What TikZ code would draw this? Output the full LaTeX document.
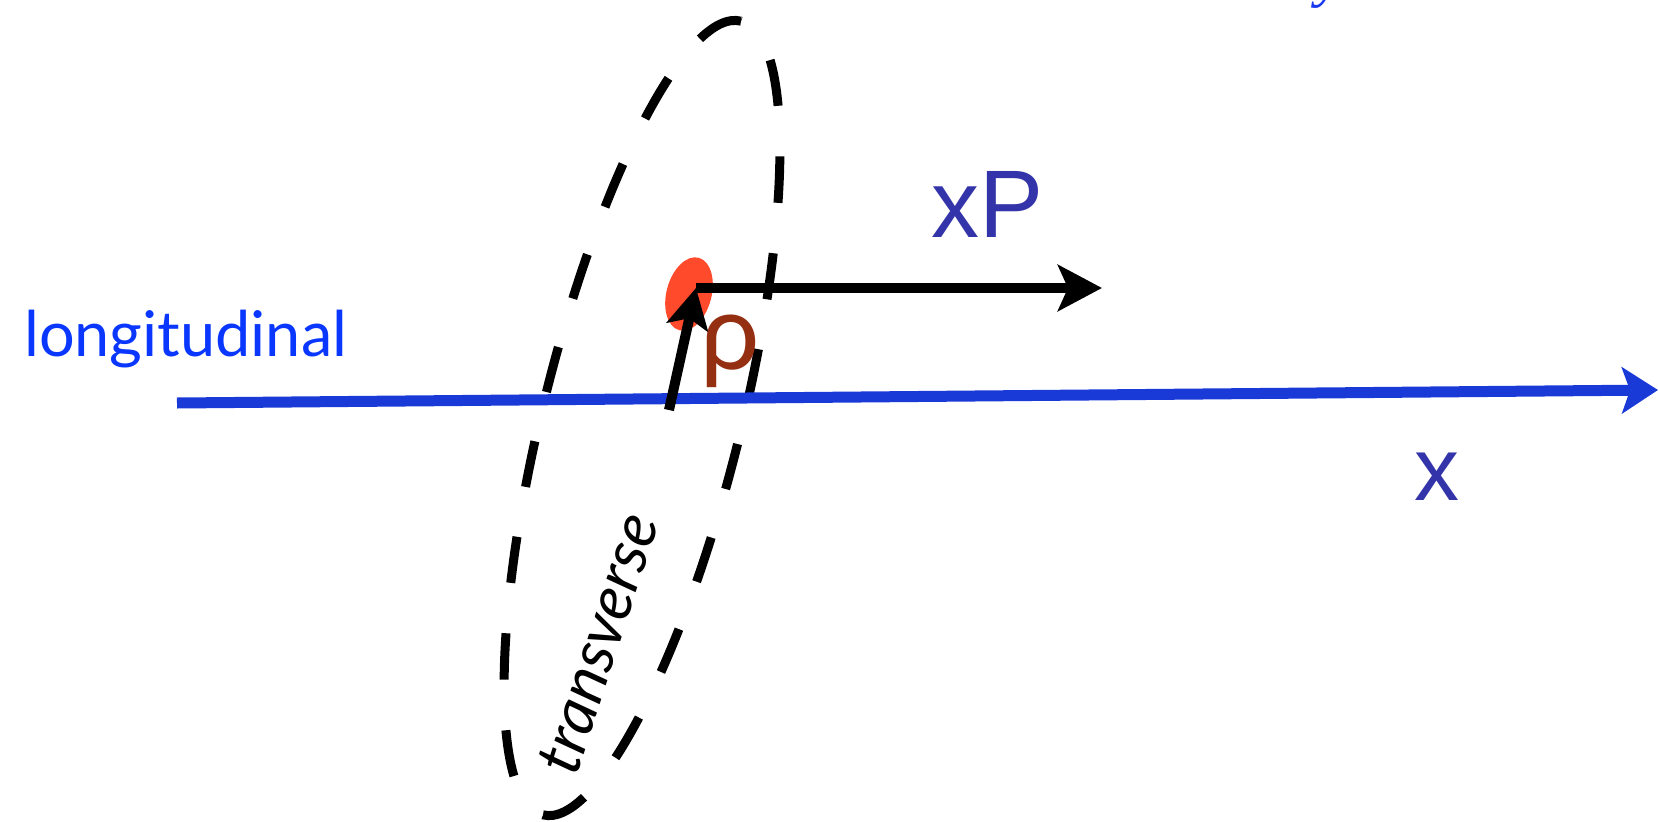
\documentclass[tikz,border=0pt]{standalone}
\usepackage{fontspec}
\setmainfont{Lato}
\newfontfamily\arialf{Liberation Sans}
\newfontfamily\timesf{Liberation Serif}
\usetikzlibrary{arrows.meta,shapes.geometric}
\definecolor{longblue}{RGB}{10,55,255}
\definecolor{axisblue}{RGB}{26,58,216}
\definecolor{labblue}{RGB}{52,52,170}
\definecolor{rhobrown}{RGB}{148,47,18}
\definecolor{dotred}{RGB}{255,74,43}
\definecolor{yblue}{RGB}{26,58,240}
\begin{document}
\begin{tikzpicture}[x=1pt,y=-1pt,
  bigarrow/.style={-{Stealth[length=44pt,width=46pt,inset=10pt]}, line width=10pt},
  lbl/.style={inner sep=0pt, anchor=base west}
]
\useasboundingbox (0,0) rectangle (1658,822);
% dashed transverse loop
\node[ellipse, draw, line width=9pt, dash pattern=on 46.5pt off 50.63pt,
      minimum width=818pt, minimum height=198pt, inner sep=0pt, rotate=76] (loop) at (642,418) {};
% longitudinal axis
\coordinate (axL) at (177,403);
\coordinate (axR) at (1658,390);
\draw[axisblue, line width=11pt, -{Stealth[length=36pt,width=46pt,inset=8pt]}] (axL) -- (axR);
% particle
\node[ellipse, fill=dotred, minimum width=45pt, minimum height=75pt, inner sep=0pt, rotate=-15] (dot) at (689,294) {};
\coordinate (o) at (696,288);
\coordinate (xpTip) at (1102,288);
\coordinate (rhoTail) at (669,410);
\draw[bigarrow] (o) -- (xpTip);
\draw[-{Stealth[length=40pt,width=42pt,inset=9pt]}, line width=10pt] (rhoTail) -- (o);
% labels
\node[lbl, text=longblue, font=\fontsize{63}{63}\selectfont] (lon) at (24,356) {longitudinal};
\node[lbl, text=labblue, font=\arialf\fontsize{96}{96}\selectfont] (xp) at (931,237) {xP};
\node[lbl, text=labblue, font=\arialf\fontsize{90}{90}\selectfont] (xl) at (1414,500) {x};
\node[lbl, text=rhobrown, font=\fontsize{106}{106}\selectfont] (rho) at (700,369) {ρ};
\node[inner sep=0pt, rotate=72, font=\itshape\fontsize{63}{63}\selectfont] (tr) at (598,643) {transverse};
\node[lbl, text=yblue, font=\timesf\itshape\fontsize{60}{60}\selectfont] (yl) at (1316,-5) {y};
\end{tikzpicture}
\end{document}
